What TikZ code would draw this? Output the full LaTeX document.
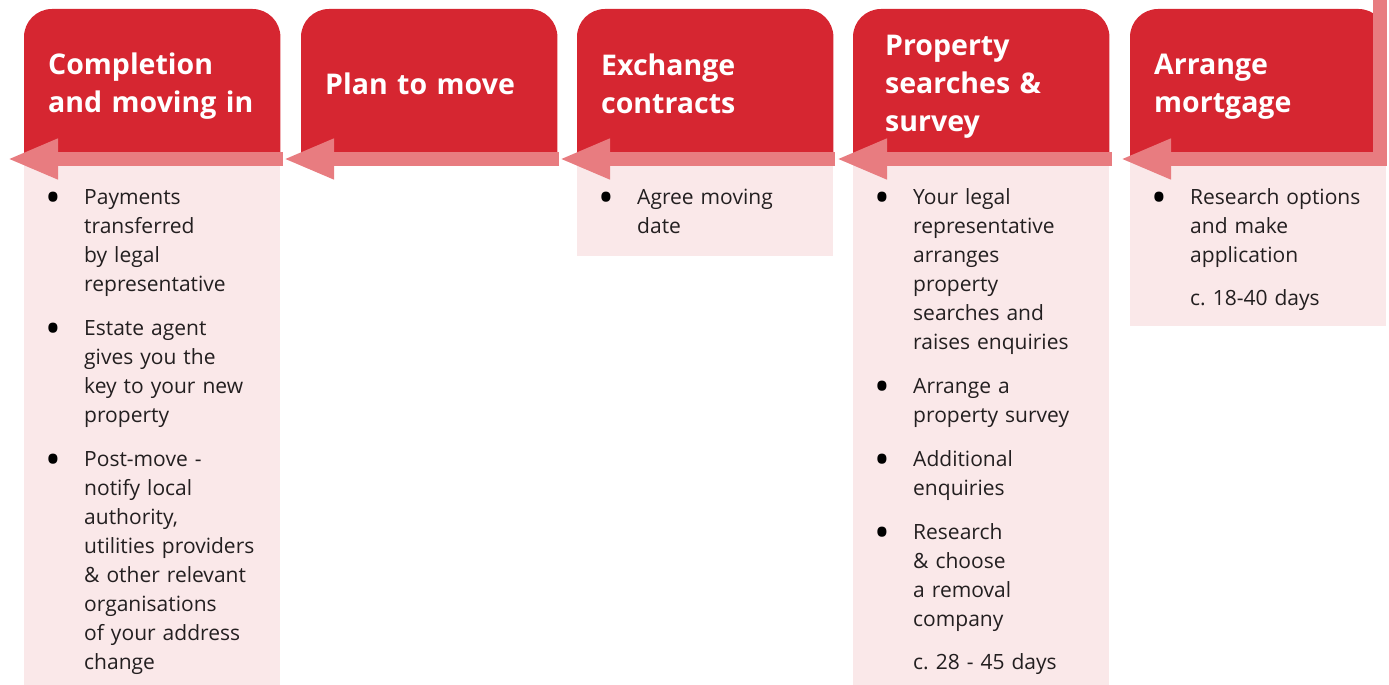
\documentclass[tikz,border=0pt]{standalone}
\usepackage{fontspec}
\setmainfont{Open Sans}
\usepackage{tikz}
\usetikzlibrary{arrows.meta,backgrounds,calc}
\definecolor{headred}{HTML}{D62631}
\definecolor{flowpink}{HTML}{E87C80}
\definecolor{bodypink}{HTML}{FAE8E9}
\definecolor{textgray}{HTML}{231F20}
\newcommand{\dotmark}{\makebox[32pt][l]{\hspace*{1pt}\makebox[0pt]{\textcolor{black}{\raisebox{-8pt}{\scalebox{2}{\textbullet}}}}}}
\newcommand{\stepitem}[1]{\par\hangindent=32pt\hangafter=1\noindent\dotmark{\let\\\newline #1}\par}
\newcommand{\stepdays}[1]{\par\vspace{14pt}\noindent\hspace*{32pt}#1\par}
\newcommand{\itemgap}{\vspace{15pt}}

\begin{document}
\begin{tikzpicture}[x=1pt, y=1pt,
  header/.style={anchor=north west, minimum width=256pt, minimum height=150pt, text width=208pt,
    inner xsep=24pt, inner ysep=0pt, align=left, text=white, font=\fontsize{28.5}{38}\selectfont\bfseries},
  bodytext/.style={anchor=north west, inner sep=0pt, text width=226pt, align=left, text=textgray,
    font=\fontsize{21}{29}\selectfont},
  flow/.style={draw=flowpink, line width=14pt, -{Triangle[length=51pt,width=37pt]}}]
\useasboundingbox (0,0) rectangle (1389,685);
\node[header] (hd1) at (24,674) {Completion\\and moving in};
\node[header] (hd2) at (301,676) {Plan to move};
\node[header] (hd3) at (577,676) {Exchange\\contracts};
\node[header, inner xsep=32pt, text width=192pt] (hd4) at (853,673) {Property\\searches \&\\survey};
\node[header] (hd5) at (1130,673) {Arrange\\mortgage};
\begin{scope}[on background layer]
\fill[bodypink] (24,526) rectangle ++(256,-526);
\fill[bodypink] (577,526) rectangle ++(256,-97);
\fill[bodypink] (853,526) rectangle ++(256,-526);
\fill[bodypink] (1130,526) rectangle ++(256,-167);
\foreach \h in {hd1,hd2,hd3,hd4,hd5} {
  \begin{scope}
  \clip (\h.west |- 0,676) rectangle (\h.east |- 0,526);
  \fill[headred, rounded corners=28pt] (\h.west |- 0,676) rectangle (\h.east |- 0,486);
  \end{scope}
}
\end{scope}
\node[bodytext] (txt1) at (52,510) {%
  \stepitem{Payments\\transferred\\by legal\\representative}\itemgap
  \stepitem{Estate agent\\gives you the\\key to your new\\property}\itemgap
  \stepitem{Post-move -\\notify local\\authority,\\utilities providers\\\& other relevant\\organisations\\of your address\\change}};
\node[bodytext] (txt3) at (605,510) {\stepitem{Agree moving\\date}};
\node[bodytext] (txt4) at (881,510) {%
  \stepitem{Your legal\\representative\\arranges\\property\\searches and\\raises enquiries}\itemgap
  \stepitem{Arrange a\\property survey}\itemgap
  \stepitem{Additional\\enquiries}\itemgap
  \stepitem{Research\\\& choose\\a removal\\company}
  \stepdays{c.\ 28 - 45 days}};
\node[bodytext] (txt5) at (1158,510) {%
  \stepitem{Research options\\and make\\application}
  \stepdays{c.\ 18-40 days}};
\coordinate (entry) at (1380,685);
\draw[flow] (283,526) -- (7,526);
\draw[flow] (559,526) -- (283,526);
\draw[flow] (835,526) -- (559,526);
\draw[flow] (1112,526) -- (836,526);
\draw[flow, line join=miter] (entry) |- (1120,526);
\end{tikzpicture}
\end{document}
